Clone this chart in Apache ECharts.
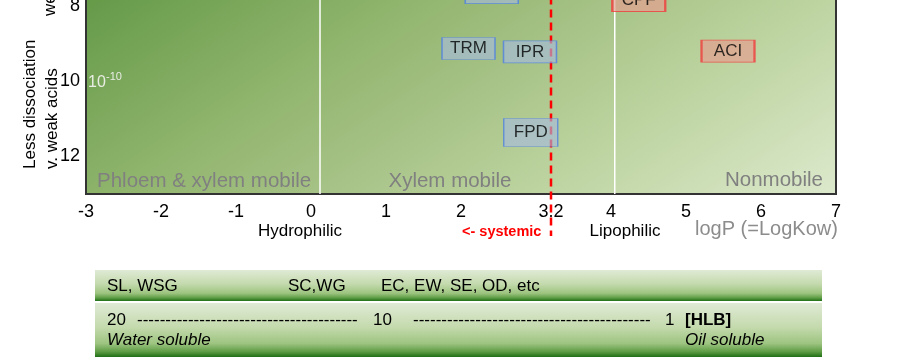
<!DOCTYPE html>
<html><head><meta charset="utf-8">
<script src="https://cdn.jsdelivr.net/npm/echarts@6/dist/echarts.min.js"></script>
<style>html,body{margin:0;padding:0;background:#fff}#c{width:914px;height:359px}</style>
</head><body><div id="c"></div>
<script>
// ---- data ----
const xTickLabels = [-3, -2, -1, 0, 1, 2, 3.2, 4, 5, 6, 7];
const yTickLabels = [8, 10, 12];
const boxNames  = ['TRM', 'IPR', 'FPD', 'ACI', 'CPF', ''];
const boxLogP   = [2.1, 2.92, 2.93, 5.56, 4.37, 2.41];
const boxPKa    = [9.12, 9.21, 11.36, 9.19, 7.84, 7.63];
const boxGroup  = ['systemic', 'systemic', 'systemic', 'nonsystemic', 'nonsystemic', 'systemic'];
const zoneBounds = [0.12, 4.05];
const systemicLimit = 3.2;
const zoneNames = ['Phloem & xylem mobile', 'Xylem mobile', 'Nonmobile'];
const formulationRow = ['SL, WSG', 'SC,WG', 'EC, EW, SE, OD, etc'];
const hlbTicks = ['20', '10', '1'];

// ---- styles ----
const ARIAL = "'Liberation Sans',Arial,sans-serif";
const groupStyle = {
  systemic:    { color: 'rgba(166,186,221,0.8)', borderColor: '#4f81e0', borderWidth: 1 },
  nonsystemic: { color: 'rgba(230,158,143,0.85)', borderColor: '#f03c3c', borderWidth: 1.5 }
};
const tallBoxes = { FPD: [54, 28] };

const Y_MIN = 6, Y_MAX = 13;

const plotGrad = {
  type: 'linear', global: true, x: 86, y: 0, x2: 406, y2: 480,
  colorStops: [
    { offset: 0, color: '#659a49' },
    { offset: 0.3, color: '#8fb46c' },
    { offset: 0.5, color: '#a6c286' },
    { offset: 0.7, color: '#bcd39f' },
    { offset: 1, color: '#dce9cc' }
  ]
};
const barGrad = {
  type: 'linear', x: 0, y: 0, x2: 0, y2: 1,
  colorStops: [
    { offset: 0, color: '#dfead5' },
    { offset: 0.45, color: '#c4daad' },
    { offset: 0.75, color: '#9dc480' },
    { offset: 0.9, color: '#5e9d45' },
    { offset: 1, color: '#1f6f16' }
  ]
};

const series = [];
zoneBounds.forEach(b => series.push({
  type: 'line', data: [[b, Y_MIN], [b, Y_MAX]], symbol: 'none', silent: true, z: 2,
  lineStyle: { color: '#ffffff', width: 1.5 }
}));
series.push({
  type: 'line', data: [[systemicLimit, Y_MIN], [systemicLimit, 14.12]], symbol: 'none', silent: true,
  clip: false, z: 3,
  lineStyle: { color: '#ff0000', width: 2.5, type: [8, 5] }
});
series.push({
  type: 'scatter', z: 5, symbol: 'rect', clip: false,
  data: boxNames.map((n, i) => ({
    name: n, value: [boxLogP[i], boxPKa[i]],
    symbolSize: tallBoxes[n] || [53, 22],
    itemStyle: groupStyle[boxGroup[i]]
  })),
  label: { show: true, position: 'inside', formatter: '{b}', color: '#000', fontSize: 17, fontFamily: ARIAL }
});

function txt(x, y, text, opt) {
  return Object.assign({ type: 'text', x: x, y: y, z: 100, silent: true,
    style: Object.assign({ text: text, fill: '#000', font: '17px ' + ARIAL, textAlign: 'left', textVerticalAlign: 'middle' }, opt || {}) });
}

const graphic = [
  // y-axis names
  Object.assign(txt(41, 169, 'Less dissociation\nv. weak acids', { font: '17px ' + ARIAL, lineHeight: 22 }), { rotation: Math.PI / 2 }),
  Object.assign(txt(50, 16, 'weak acids', { font: '17px ' + ARIAL }), { rotation: Math.PI / 2 }),
  // 10^-10
  txt(88, 83, '10', { fill: '#e8ece2', font: '16px ' + ARIAL }),
  txt(106, 77, '-10', { fill: '#e8ece2', font: '11px ' + ARIAL }),
  // zone names
  txt(97, 181, zoneNames[0], { fill: '#808080', font: '20.5px ' + ARIAL }),
  txt(450, 181, zoneNames[1], { fill: '#808080', font: '20.5px ' + ARIAL, textAlign: 'center' }),
  txt(823, 180, zoneNames[2], { fill: '#808080', font: '20.5px ' + ARIAL, textAlign: 'right' }),
  // below axis
  txt(300, 231, 'Hydrophilic', { textAlign: 'center' }),
  txt(462, 232, '<- systemic', { fill: '#ff0000', font: 'bold 14.5px ' + ARIAL }),
  txt(625, 231, 'Lipophilic', { textAlign: 'center' }),
  txt(695, 229, 'logP (=LogKow)', { fill: '#8c8c8c', font: '20px ' + ARIAL }),
  // bottom bars
  { type: 'rect', shape: { x: 95, y: 270, width: 727, height: 31 }, style: { fill: barGrad }, z: 50, silent: true },
  { type: 'rect', shape: { x: 95, y: 303, width: 727, height: 54 }, style: { fill: barGrad }, z: 50, silent: true },
  txt(107, 286, formulationRow[0]),
  txt(288, 286, formulationRow[1]),
  txt(381, 286, formulationRow[2]),
  txt(107, 320, hlbTicks[0]),
  txt(137, 320, '-'.repeat(39)),
  txt(373, 320, hlbTicks[1]),
  txt(413, 320, '-'.repeat(42)),
  txt(665, 320, hlbTicks[2]),
  txt(685, 320, '[HLB]', { font: 'bold 17px ' + ARIAL }),
  txt(107, 340, 'Water soluble', { font: 'italic 17px ' + ARIAL }),
  txt(685, 340, 'Oil soluble', { font: 'italic 17px ' + ARIAL })
];

const chart = echarts.init(document.getElementById('c'));
chart.setOption({
  animation: false,
  backgroundColor: '#ffffff',
  grid: {
    left: 86, right: 78, top: -68.5, bottom: 165, show: true,
    backgroundColor: plotGrad, borderColor: '#333', borderWidth: 2,
    containLabel: false, outerBoundsMode: 'none'
  },
  xAxis: {
    type: 'value', min: -3, max: 7, interval: 1,
    axisLine: { show: true, onZero: false, lineStyle: { color: '#333', width: 2 } },
    axisTick: { show: false }, splitLine: { show: false },
    axisLabel: { customValues: xTickLabels, color: '#000', fontSize: 18, fontFamily: ARIAL, margin: 9,
      formatter: v => String(v) }
  },
  yAxis: {
    type: 'value', inverse: true, min: Y_MIN, max: Y_MAX, interval: 1,
    axisLine: { show: true, onZero: false, lineStyle: { color: '#333', width: 2 } },
    axisTick: { show: false }, splitLine: { show: false },
    axisLabel: { customValues: yTickLabels, color: '#000', fontSize: 18, fontFamily: ARIAL, margin: 6 }
  },
  series: series,
  graphic: graphic
});
</script>
</body></html>
